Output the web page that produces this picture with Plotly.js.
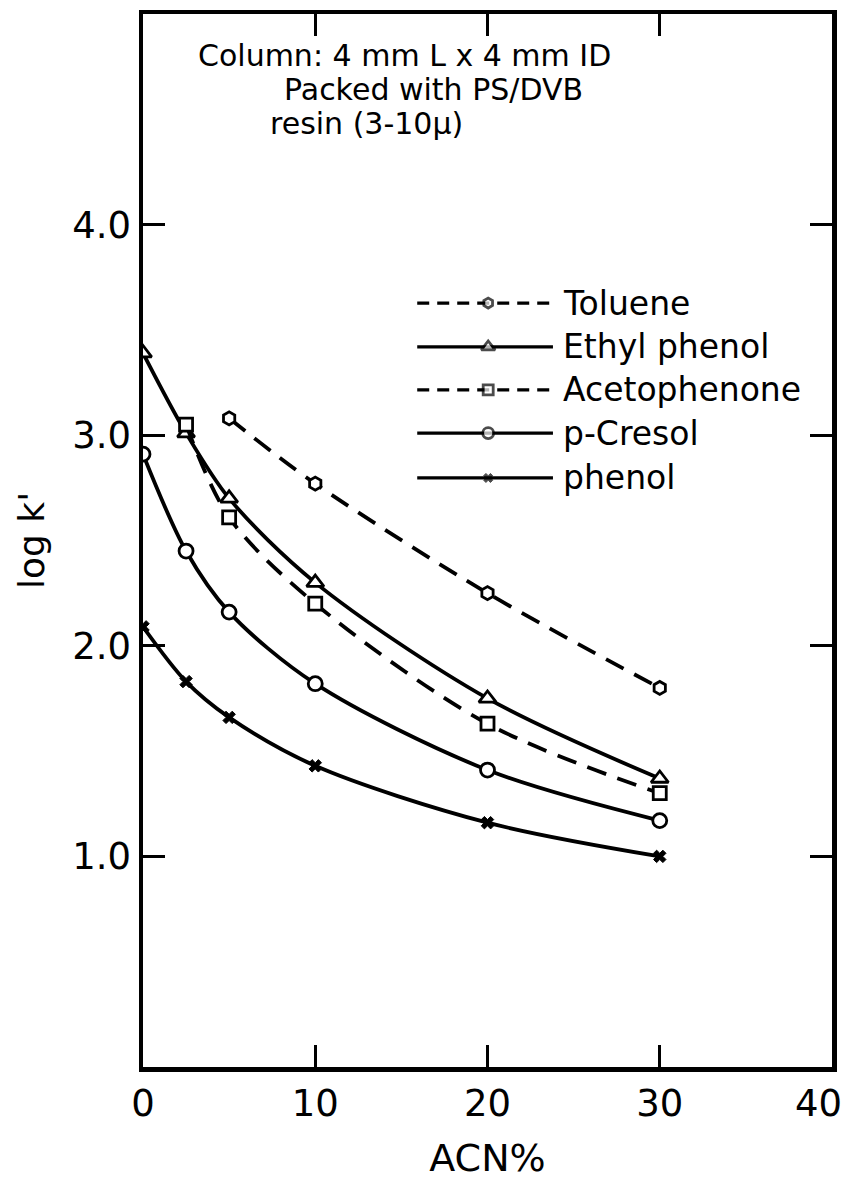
<!DOCTYPE html>
<html>
<head>
<meta charset="utf-8">
<script src="https://cdn.plot.ly/plotly-3.0.1.min.js"></script>
<style>
  html, body { margin: 0; padding: 0; background: #fff; }
  #chart { width: 850px; height: 1180px; }
</style>
</head>
<body>
<div id="chart"></div>
<script>
// Retention (log k') versus acetonitrile content of the mobile phase
const seriesNames = ['Toluene', 'Ethyl phenol', 'Acetophenone', 'p-Cresol', 'phenol'];

const tolueneAcn = [5, 10, 20, 30];
const tolueneLogK = [3.08, 2.77, 2.25, 1.80];

const ethylPhenolAcn = [0, 2.5, 5, 10, 20, 30];
const ethylPhenolLogK = [3.39, 3.01, 2.70, 2.30, 1.75, 1.37];

const acetophenoneAcn = [2.5, 5, 10, 20, 30];
const acetophenoneLogK = [3.05, 2.61, 2.20, 1.63, 1.30];

const cresolAcn = [0, 2.5, 5, 10, 20, 30];
const cresolLogK = [2.91, 2.45, 2.16, 1.82, 1.41, 1.17];

const phenolAcn = [0, 2.5, 5, 10, 20, 30];
const phenolLogK = [2.09, 1.83, 1.66, 1.43, 1.16, 1.00];

const xTickVals = [0, 10, 20, 30, 40];
// the label at the right end is placed separately so it stays inside the page
const xTickText = ['0', '10', '20', '30', ''];
const xEndLabel = '40';
const yTickVals = [1, 2, 3, 4];
const yTickText = ['1.0', '2.0', '3.0', '4.0'];

const noteLines = ['Column: 4 mm L x 4 mm ID', 'Packed with PS/DVB', 'resin (3-10\u03bc)'];

const FONT = 'DejaVu Sans, sans-serif';
const INK = '#000';
const DASH = '20px,12px';

const styles = [
  { dash: DASH,    symbol: 'hexagon',     size: 13 },
  { dash: 'solid', symbol: 'triangle-up', size: 15 },
  { dash: DASH,    symbol: 'square',      size: 13 },
  { dash: 'solid', symbol: 'circle',      size: 14 },
  { dash: 'solid', symbol: 'x',           size: 11 }
];

const xs = [tolueneAcn, ethylPhenolAcn, acetophenoneAcn, cresolAcn, phenolAcn];
const ys = [tolueneLogK, ethylPhenolLogK, acetophenoneLogK, cresolLogK, phenolLogK];

function markerFor(st) {
  const filled = st.symbol === 'x';
  return {
    symbol: st.symbol,
    size: st.size,
    color: filled ? INK : '#fff',
    line: { color: INK, width: filled ? 1 : 2.8 }
  };
}

const traces = seriesNames.map((name, i) => ({
  type: 'scatter',
  mode: 'lines+markers',
  name: name,
  x: xs[i],
  y: ys[i],
  line: { color: INK, width: 3.8, dash: styles[i].dash, shape: 'spline', smoothing: 0.9 },
  marker: markerFor(styles[i]),
  showlegend: false,
  hoverinfo: 'x+y+name'
}));

// Key: short sample line with the marker in its middle, drawn on a 0..1 overlay axis
const keyX = [0.398, 0.501, 0.595];
const keyRowY = [0.7255, 0.6838, 0.643, 0.602, 0.5594];
seriesNames.forEach((name, i) => {
  traces.push({
    type: 'scatter',
    mode: 'lines+markers',
    x: keyX,
    y: [keyRowY[i], keyRowY[i], keyRowY[i]],
    xaxis: 'x2',
    yaxis: 'y2',
    line: { color: INK, width: 3.2, dash: styles[i].dash === 'solid' ? 'solid' : '12px,8px' },
    marker: Object.assign(markerFor(styles[i]), { size: [0, styles[i].size - 3, 0] }),
    showlegend: false,
    hoverinfo: 'skip'
  });
});

const annotations = [];
seriesNames.forEach((name, i) => {
  annotations.push({
    xref: 'paper', yref: 'paper', x: 0.606, y: keyRowY[i],
    xanchor: 'left', yanchor: 'middle', showarrow: false,
    text: name, font: { family: FONT, size: 33, color: INK }
  });
});
const noteX = [0.077, 0.202, 0.181];
const noteY = [0.961, 0.928, 0.896];
noteLines.forEach((t, i) => {
  annotations.push({
    xref: 'paper', yref: 'paper', x: noteX[i], y: noteY[i],
    xanchor: 'left', yanchor: 'middle', showarrow: false,
    text: t, font: { family: FONT, size: 30, color: INK }
  });
});
// right-end tick label, nudged inward
annotations.push({
  xref: 'x', yref: 'paper', x: 40, y: -0.0342,
  xanchor: 'center', yanchor: 'middle', xshift: -14, showarrow: false,
  text: xEndLabel, font: { family: FONT, size: 37, color: INK }
});

const axisCommon = {
  showgrid: false, zeroline: false,
  showline: true, linecolor: INK, linewidth: 4.5, mirror: 'ticks',
  ticks: 'inside', ticklen: 22, tickwidth: 3, tickcolor: INK,
  tickfont: { family: FONT, size: 37, color: INK },
  fixedrange: true
};

const layout = {
  width: 850, height: 1180,
  margin: { l: 143, r: 18, t: 14, b: 113 },
  paper_bgcolor: '#fff', plot_bgcolor: '#fff',
  showlegend: false,
  xaxis: Object.assign({}, axisCommon, {
    range: [0, 40], tickmode: 'array', tickvals: xTickVals, ticktext: xTickText,
    title: { text: 'ACN%', font: { family: FONT, size: 38, color: INK }, standoff: 24 }
  }),
  yaxis: Object.assign({}, axisCommon, {
    range: [0, 5], tickmode: 'array', tickvals: yTickVals, ticktext: yTickText,
    title: { text: "log k'", font: { family: FONT, size: 36, color: INK }, standoff: 18 }
  }),
  xaxis2: { overlaying: 'x', range: [0, 1], visible: false, fixedrange: true },
  yaxis2: { overlaying: 'y', range: [0, 1], visible: false, fixedrange: true },
  annotations: annotations
};

Plotly.newPlot('chart', traces, layout, { displayModeBar: false, staticPlot: true });
</script>
</body>
</html>
